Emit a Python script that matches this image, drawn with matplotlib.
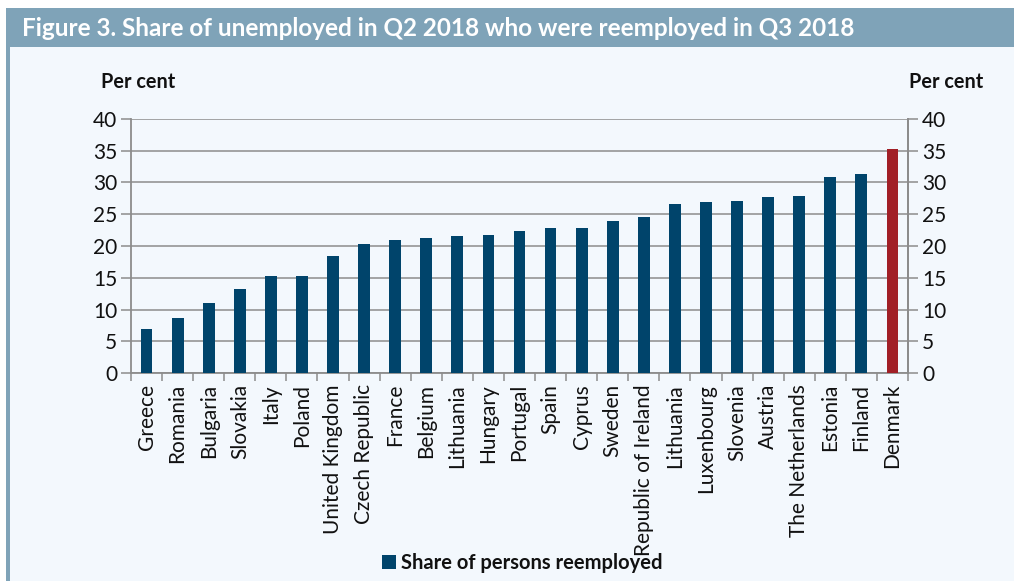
"""Share of unemployed in Q2 2018 who were reemployed in Q3 2018, by country."""

import matplotlib
matplotlib.use('Agg')
import matplotlib.pyplot as plt
from matplotlib.patches import Rectangle, Patch

countries = ['Greece', 'Romania', 'Bulgaria', 'Slovakia', 'Italy', 'Poland',
             'United Kingdom', 'Czech Republic', 'France', 'Belgium', 'Lithuania',
             'Hungary', 'Portugal', 'Spain', 'Cyprus', 'Sweden', 'Republic of Ireland',
             'Lithuania', 'Luxenbourg', 'Slovenia', 'Austria', 'The Netherlands',
             'Estonia', 'Finland', 'Denmark']
reemployed = [6.9, 8.7, 11.1, 13.3, 15.2, 15.3, 18.4, 20.3, 21.0, 21.3, 21.6,
              21.7, 22.3, 22.9, 22.9, 24.0, 24.5, 26.6, 27.0, 27.1, 27.7, 27.8,
              30.8, 31.3, 35.2]
highlight = 'Denmark'
yticks = [0, 5, 10, 15, 20, 25, 30, 35, 40]
title = 'Figure 3. Share of unemployed in Q2 2018 who were reemployed in Q3 2018'
series_name = 'Share of persons reemployed'

blue = '#00446b'
red = '#a11f26'
grid_grey = '#8c8c8c'
panel_bg = '#f3f8fd'
frame_blue = '#7fa3b8'
ink = '#111111'

plt.rcParams['font.family'] = ['Lato', 'DejaVu Sans']

fig = plt.figure(figsize=(10.14, 5.81), dpi=100)
fig.patch.set_facecolor('white')

# panel background, left rule and title strip
fig.patches.append(Rectangle((6 / 1014, 0), 1, 1 - 8 / 581, transform=fig.transFigure,
                             facecolor=panel_bg, edgecolor='none', zorder=-10))
fig.patches.append(Rectangle((6 / 1014, 0), 4 / 1014, 1 - 8 / 581, transform=fig.transFigure,
                             facecolor=frame_blue, edgecolor='none', zorder=-9))
fig.patches.append(Rectangle((6 / 1014, 1 - 47 / 581), 1, 39 / 581, transform=fig.transFigure,
                             facecolor=frame_blue, edgecolor='none', zorder=-9))
fig.text(22 / 1014, 1 - 29 / 581, title, color='white', fontsize=17.5, fontweight='bold',
         va='center', ha='left')

ax = fig.add_axes([131 / 1014, 1 - 373 / 581, 777 / 1014, 254 / 581])
ax.set_facecolor('none')

x = list(range(len(countries)))
colors = [red if c == highlight else blue for c in countries]
ax.bar(x, reemployed, width=0.38, color=colors, zorder=3)

ax.set_xlim(-0.5, len(countries) - 0.5)
ax.set_ylim(0, 40)
ax.set_yticks(yticks)
ax.yaxis.grid(True, color=grid_grey, linewidth=1.1, zorder=0)
ax.set_axisbelow(True)

ax.set_xticks(x)
ax.set_xticklabels(countries, rotation=90, fontsize=15, color=ink)
ax.set_xticks([i - 0.5 for i in range(len(countries) + 1)], minor=True)
ax.tick_params(axis='x', which='major', length=0, pad=8)
ax.tick_params(axis='x', which='minor', length=6, width=1.1, color=grid_grey, direction='out')
ax.tick_params(axis='y', length=7, width=1.1, color=grid_grey, labelsize=15, pad=3,
               labelcolor=ink)

for side in ['left', 'right', 'bottom']:
    ax.spines[side].set_color(grid_grey)
    ax.spines[side].set_linewidth(1.3)
ax.spines['top'].set_visible(False)

ax2 = ax.twinx()
ax2.set_ylim(0, 40)
ax2.set_yticks(yticks)
ax2.tick_params(axis='y', length=7, width=1.1, color=grid_grey, labelsize=15, pad=3,
                labelcolor=ink)
for side in ['left', 'top', 'bottom']:
    ax2.spines[side].set_visible(False)
ax2.spines['right'].set_color(grid_grey)
ax2.spines['right'].set_linewidth(1.3)

fig.text(138 / 1014, 1 - 82 / 581, 'Per cent', fontsize=14.3, fontweight='bold',
         ha='center', va='center', color=ink)
fig.text(946 / 1014, 1 - 82 / 581, 'Per cent', fontsize=14.3, fontweight='bold',
         ha='center', va='center', color=ink)

handle = Patch(facecolor=blue, edgecolor='none')
leg = fig.legend([handle], [series_name], loc='center', bbox_to_anchor=(522 / 1014, 1 - 563 / 581),
                 frameon=False, handlelength=0.7, handleheight=0.7, handletextpad=0.25,
                 prop={'weight': 'bold', 'size': 14.5})
for t in leg.get_texts():
    t.set_color(ink)

fig.savefig('out.png', dpi=100, facecolor=fig.get_facecolor())
